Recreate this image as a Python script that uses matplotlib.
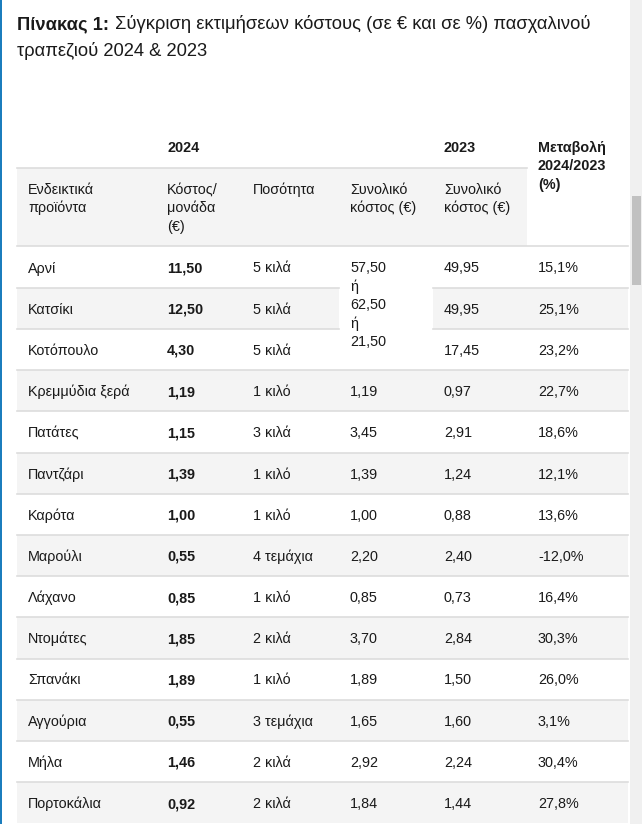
import matplotlib.pyplot as plt
from matplotlib.patches import Rectangle

plt.rcParams['font.family'] = ['Liberation Sans', 'DejaVu Sans']

products = ['Αρνί', 'Κατσίκι', 'Κοτόπουλο', 'Κρεμμύδια ξερά', 'Πατάτες', 'Παντζάρι',
            'Καρότα', 'Μαρούλι', 'Λάχανο', 'Ντομάτες', 'Σπανάκι', 'Αγγούρια', 'Μήλα',
            'Πορτοκάλια']
unit_cost = ['11,50', '12,50', '4,30', '1,19', '1,15', '1,39', '1,00', '0,55', '0,85',
             '1,85', '1,89', '0,55', '1,46', '0,92']
quantity = ['5 κιλά', '5 κιλά', '5 κιλά', '1 κιλό', '3 κιλά', '1 κιλό', '1 κιλό',
            '4 τεμάχια', '1 κιλό', '2 κιλά', '1 κιλό', '3 τεμάχια', '2 κιλά', '2 κιλά']
total_2024 = [None, None, None, '1,19', '3,45', '1,39', '1,00', '2,20', '0,85', '3,70',
              '1,89', '1,65', '2,92', '1,84']
merged_2024 = ['57,50', 'ή', '62,50', 'ή', '21,50']
total_2023 = ['49,95', '49,95', '17,45', '0,97', '2,91', '1,24', '0,88', '2,40', '0,73',
              '2,84', '1,50', '1,60', '2,24', '1,44']
change = ['15,1%', '25,1%', '23,2%', '22,7%', '18,6%', '12,1%', '13,6%', '-12,0%',
          '16,4%', '30,3%', '26,0%', '3,1%', '30,4%', '27,8%']
headers = [['Ενδεικτικά', 'προϊόντα'], ['Κόστος/', 'μονάδα', '(€)'], ['Ποσότητα'],
           ['Συνολικό', 'κόστος (€)'], ['Συνολικό', 'κόστος (€)']]
change_header = ['Μεταβολή', '2024/2023', '(%)']

W, H = 642, 824
fig = plt.figure(figsize=(W / 100, H / 100), dpi=100)
ax = fig.add_axes([0, 0, 1, 1])
ax.set_xlim(0, W)
ax.set_ylim(H, 0)
ax.axis('off')

gray = '#f4f4f4'
line = '#dddddd'
txt = '#1a1a1a'
fs = 10.4
lsp = 18.3

# page frame: blue left border and scrollbar
ax.add_patch(Rectangle((0, 0), 1.6, H, color='#1b7dbd', lw=0))
ax.add_patch(Rectangle((630, 0), 12, H, color='#f0f0f0', lw=0))
ax.add_patch(Rectangle((632, 196), 9, 89, color='#c1c1c1', lw=0))

# title
ax.text(17, 29, 'Πίνακας 1:', fontsize=13.2, fontweight='bold', color=txt, va='baseline')
ax.text(115, 29, 'Σύγκριση εκτιμήσεων κόστους (σε € και σε %) πασχαλινού',
        fontsize=13.2, color=txt, va='baseline')
ax.text(17, 56, 'τραπεζιού 2024 & 2023', fontsize=13.2, color=txt, va='baseline')

left, right = 17, 628
colx = [28, 167, 253, 350, 444, 538]
merge_l, merge_r = 339, 433

# header
ax.add_patch(Rectangle((left, 168), 527 - left, 246 - 168, color=gray, lw=0))
ax.plot([left, 527], [168, 168], color=line, lw=1.2)
ax.plot([left, right], [246, 246], color=line, lw=1.2)
ax.text(colx[1], 152, '2024', fontsize=fs, fontweight='bold', color=txt, va='baseline')
ax.text(colx[4], 152, '2023', fontsize=fs, fontweight='bold', color=txt, va='baseline')
for k, s in enumerate(change_header):
    ax.text(colx[5], 152 + k * lsp, s, fontsize=fs, fontweight='bold', color=txt,
            va='baseline')
for x, h in zip(colx, headers):
    for k, s in enumerate(h):
        ax.text(x, 194 + k * lsp, s, fontsize=fs, color=txt, va='baseline')

# body rows
row_top, row_h = 246.5, 41.2
for i, p in enumerate(products):
    y0 = row_top + i * row_h
    if i % 2 == 1:
        ax.add_patch(Rectangle((left, y0), right - left, row_h, color=gray, lw=0))
        if i == 1:
            ax.add_patch(Rectangle((merge_l, y0), merge_r - merge_l, row_h, color='white', lw=0))
    if i > 0:
        if i in (1, 2):
            ax.plot([left, merge_l], [y0, y0], color=line, lw=1.2)
            ax.plot([merge_r, right], [y0, y0], color=line, lw=1.2)
        else:
            ax.plot([left, right], [y0, y0], color=line, lw=1.2)
    yb = y0 + 26
    ax.text(colx[0], yb, p, fontsize=fs, color=txt, va='baseline')
    ax.text(colx[1], yb, unit_cost[i], fontsize=fs, fontweight='bold', color=txt, va='baseline')
    ax.text(colx[2], yb, quantity[i], fontsize=fs, color=txt, va='baseline')
    if total_2024[i] is not None:
        ax.text(colx[3], yb, total_2024[i], fontsize=fs, color=txt, va='baseline')
    ax.text(colx[4], yb, total_2023[i], fontsize=fs, color=txt, va='baseline')
    ax.text(colx[5], yb, change[i], fontsize=fs, color=txt, va='baseline')

for k, s in enumerate(merged_2024):
    ax.text(colx[3], 272 + k * 18.5, s, fontsize=fs, color=txt, va='baseline')

fig.savefig('out.png', dpi=100)
